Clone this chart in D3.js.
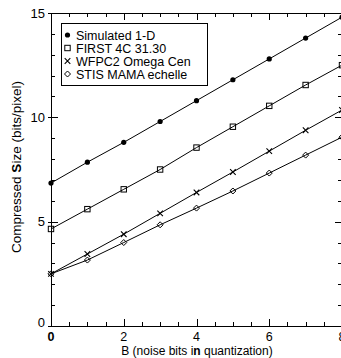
<!DOCTYPE html>
<html><head><meta charset="utf-8">
<script src="https://cdn.jsdelivr.net/npm/d3@7"></script>
<style>body{margin:0;background:#fff}svg{display:block}</style>
</head><body>
<svg id="c" width="341" height="358"></svg>
<script>
const xs = [0,1,2,3,4,5,6,7,8];
const simulated = [6.85,7.85,8.8,9.8,10.8,11.8,12.8,13.8,14.8];
const first4c = [4.65,5.6,6.55,7.5,8.55,9.55,10.55,11.55,12.5];
const wfpc2 = [2.5,3.45,4.4,5.4,6.4,7.38,8.38,9.38,10.35];
const stis = [2.5,3.16,4.0,4.85,5.65,6.47,7.33,8.19,9.05];
const seriesNames = ["Simulated 1-D","FIRST 4C 31.30","WFPC2 Omega Cen","STIS MAMA echelle"];
const xTicks = [0,2,4,6,8];
const yTicks = [0,5,10,15];

const series = [
  {name: seriesNames[0], vals: simulated, sym: "dot"},
  {name: seriesNames[1], vals: first4c, sym: "square"},
  {name: seriesNames[2], vals: wfpc2, sym: "x"},
  {name: seriesNames[3], vals: stis, sym: "diamond"}
];

const svg = d3.select("#c");
const font = "Liberation Sans, Arial, Helvetica, sans-serif";
const L = 51, R = 342, T = 13, B = 326;
const x = d3.scaleLinear().domain([0,8]).range([L,R]);
const y = d3.scaleLinear().domain([0,15]).range([B,T]);

// frame
svg.append("rect").attr("x",L+0.5).attr("y",T+0.5).attr("width",R-L-1).attr("height",B-T)
  .attr("fill","none").attr("stroke","#000").attr("stroke-width",1);

// ticks
const g = svg.append("g").attr("stroke","#000").attr("stroke-width",1);
d3.range(0,8.01,0.5).forEach(v=>{
  const major = Math.abs(v/2-Math.round(v/2))<1e-9;
  const len = major?7:4;
  const px = Math.round(x(v))+0.5;
  g.append("line").attr("x1",px).attr("x2",px).attr("y1",B).attr("y2",B-len);
  g.append("line").attr("x1",px).attr("x2",px).attr("y1",T).attr("y2",T+len);
});
d3.range(0,15.01,1).forEach(v=>{
  const major = v%5===0;
  const len = major?7:4;
  const py = Math.round(y(v))+0.5;
  g.append("line").attr("x1",major?L-3:L).attr("x2",L+len).attr("y1",py).attr("y2",py);
  g.append("line").attr("x1",R-len).attr("x2",R).attr("y1",py).attr("y2",py);
});

// tick labels
svg.selectAll(".xl").data(xTicks).enter().append("text")
  .attr("x",d=>x(d)).attr("y",341).attr("text-anchor","middle")
  .attr("font-family",font).attr("font-size",12.5).attr("font-weight",d=>d===0?"bold":"normal").text(d=>d);
svg.selectAll(".yl").data(yTicks).enter().append("text")
  .attr("x",45).attr("y",d=>d===0?y(d)+1:y(d)+4.5).attr("text-anchor","end")
  .attr("font-family",font).attr("font-size",13).text(d=>d);

// axis titles
const xt = svg.append("text").attr("x",197).attr("y",355).attr("text-anchor","middle")
  .attr("font-family",font).attr("font-size",12);
xt.append("tspan").text("B (noise bits i");
xt.append("tspan").attr("font-weight","bold").text("n");
xt.append("tspan").text(" quantization)");
const yt = svg.append("text").attr("transform","translate(21,167) rotate(-90)").attr("text-anchor","middle")
  .attr("font-family",font).attr("font-size",13.5);
yt.append("tspan").text("Compressed ");
yt.append("tspan").attr("font-weight","bold").text("S");
yt.append("tspan").text("ize (bits/pixel)");

// clip
svg.append("clipPath").attr("id","clip").append("rect").attr("x",L).attr("y",T).attr("width",R-L).attr("height",B-T);
const plot = svg.append("g").attr("clip-path","url(#clip)");

const line = d3.line().x((d,i)=>x(xs[i])).y(d=>y(d));

function marker(sel, sym, cx, cy){
  if(sym==="dot") sel.append("circle").attr("cx",cx).attr("cy",cy).attr("r",2.6).attr("fill","#000");
  else if(sym==="square") sel.append("rect").attr("x",cx-2.7).attr("y",cy-2.7).attr("width",5.4).attr("height",5.4).attr("fill","none").attr("stroke","#000").attr("stroke-width",1);
  else if(sym==="x") sel.append("path").attr("d",`M${cx-2.8},${cy-2.8}L${cx+2.8},${cy+2.8}M${cx-2.8},${cy+2.8}L${cx+2.8},${cy-2.8}`).attr("stroke","#000").attr("stroke-width",1.1);
  else if(sym==="diamond") sel.append("path").attr("d",`M${cx},${cy-3}L${cx+3},${cy}L${cx},${cy+3}L${cx-3},${cy}Z`).attr("fill","none").attr("stroke","#000").attr("stroke-width",1);
}

series.forEach(s=>{
  plot.append("path").datum(s.vals).attr("d",line).attr("fill","none").attr("stroke","#000").attr("stroke-width",1);
  s.vals.forEach((v,i)=>marker(svg, s.sym, x(xs[i]), y(v)));
});

// legend
const lg = svg.append("g");
lg.append("rect").attr("x",61.5).attr("y",23.5).attr("width",146).attr("height",62)
  .attr("fill","#fff").attr("stroke","#000").attr("stroke-width",1);
series.forEach((s,i)=>{
  const cy = 35 + i*13;
  marker(lg, s.sym, 67.5, cy);
  lg.append("text").attr("x",76).attr("y",cy+4.5).attr("font-family",font).attr("font-size",12.5).text(s.name);
});
</script>
</body></html>
